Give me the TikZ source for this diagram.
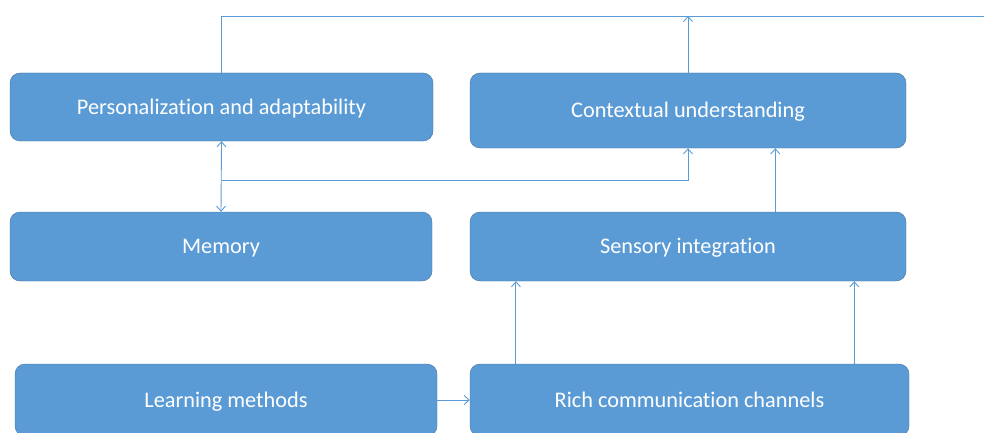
\documentclass[tikz,border=0pt]{standalone}
\usepackage{fontspec}
\setmainfont{Carlito}[Ligatures=NoCommon]
\usetikzlibrary{calc,arrows.meta}
\definecolor{boxfill}{HTML}{5B9BD5}
\definecolor{boxline}{HTML}{41719C}
\definecolor{linkcol}{HTML}{5B9BD5}
\tikzset{
  block/.style={draw=boxline, fill=boxfill, rounded corners=10pt, text=white,
    font=\fontsize{22.3}{26}\selectfont, inner sep=0pt, text height=16pt, text depth=2pt},
  link/.style={draw=linkcol, line width=0.9pt},
  >={Straight Barb[length=5pt,width=9pt]}
}
\begin{document}
\begin{tikzpicture}[x=1pt,y=-1pt]
            \useasboundingbox (0,0) rectangle (984,433);
            % boxes
            \node[block, minimum width=423pt, minimum height=68pt] (pers) at (221.5,107) {Personalization and adaptability};
            \node[block, minimum width=436pt, minimum height=75pt] (ctx) at (688,110.5) {Contextual understanding};
            \node[block, minimum width=422pt, minimum height=69pt] (mem) at (221,246.5) {Memory};
            \node[block, minimum width=436pt, minimum height=69pt] (sens) at (688,246.5) {Sensory integration};
            \node[block, minimum width=422pt, minimum height=72pt] (learn) at (226,400) {Learning methods};
            \node[block, minimum width=439pt, minimum height=72pt] (rich) at (689.5,400) {Rich communication channels};
            % free ends
            \coordinate (topend) at (984,16);
            \coordinate (split) at (221.5,180);
            \coordinate (s1) at ($(sens.north west)!0.7!(sens.north east)$);
            \coordinate (r1) at ($(rich.north west)!0.105!(rich.north east)$);
            \coordinate (r2) at ($(rich.north west)!0.875!(rich.north east)$);
            % connectors
            \draw[link] (pers.north) |- (topend);
            \draw[link,->] (ctx.north) -- (ctx.north |- topend);
            \draw[link,<->] (pers.south) -- (mem.north);
            \draw[link,->] (split) -| (ctx.south);
            \draw[link,->] (s1) -- (s1 |- ctx.south);
            \draw[link,->] (r1) -- (r1 |- sens.south);
            \draw[link,->] (r2) -- (r2 |- sens.south);
            \draw[link,->] (learn.east) -- (rich.west);
        \end{tikzpicture}
\end{document}
